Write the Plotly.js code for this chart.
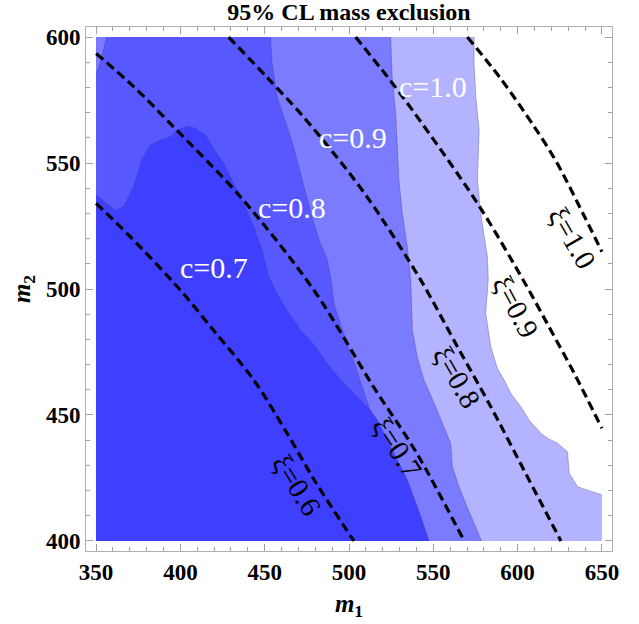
<!DOCTYPE html>
<html>
<head>
<meta charset="utf-8">
<script src="https://cdn.plot.ly/plotly-3.0.1.min.js"></script>
<style>html,body{margin:0;padding:0;background:#fff;}#plot{width:639px;height:624px;}</style>
</head>
<body>
<div id="plot"></div>
<script>
// ---- data ----
const m1Span = [350, 650];
const m2Span = [400, 600];

// contour boundaries of c (filled regions)
const c07_m1 = [350, 361.3, 366.2, 372.2, 377.1, 382.1, 388, 394, 397.9, 403.9, 408.8, 414.8, 419.7, 425.6, 431.6, 437.5, 443.5, 448.4, 452.4, 455.3, 459.3, 463.3, 471.2, 479.1, 487, 495, 504.9, 512.8, 516.8, 522.7, 528.7, 534.6, 540.5, 547.5];
const c07_m2 = [537.3, 531.3, 532.7, 540.6, 551.2, 557.1, 559.1, 560.4, 563.1, 564.7, 563.8, 561.1, 555.8, 549.9, 541.9, 534, 524.7, 515.5, 504.9, 500.9, 495.6, 491.5, 483.7, 478, 470.5, 463.9, 457.3, 451.8, 448, 440, 432.1, 424.2, 413.6, 400];

const c08_m1 = [453.4, 454.4, 457.3, 461.3, 466, 470, 474.5, 478.5, 483, 487, 489.5, 491, 495, 499, 503.5, 508, 512.8];
const c08_m2 = [600, 589.6, 576.3, 568.4, 559, 549, 538, 527.4, 518, 512, 503, 494.3, 486, 478, 470, 461, 451.3];

const c09_m1 = [524.7, 525.7, 527.7, 528.7, 529.6, 531.6, 534.6, 536.6, 537.6, 540.5, 544.4, 549, 554.4, 560.3, 561.3, 564.5, 568.3, 578.6];
const c09_m2 = [600, 582.9, 569.7, 556.5, 543.3, 530, 516.8, 503.6, 483.7, 473, 463.9, 457, 448, 438.8, 429.5, 423, 416.3, 400];

const c10_m1 = [574.2, 574.2, 575.2, 577.2, 576.2, 578.1, 582.1, 582.6, 581.1, 584.1, 588, 592, 596, 601.9, 607, 613.8, 618.5, 623.7, 629.6, 630.6, 635.6, 643.5, 650];
const c10_m2 = [600, 589.5, 576.3, 563.1, 543.3, 530, 512.8, 503.6, 490.4, 477.1, 468.5, 463.9, 458.5, 453.3, 447.8, 442.7, 440.5, 438.8, 435.4, 426.9, 421.5, 419.6, 418.3];

// small c=0.8..0.9 patch in the top-left corner
const patch_m1 = [350, 356.3, 354.3, 352.4, 350];
const patch_m2 = [600, 600, 594.8, 589.6, 585.6];

// xi contours (dashed)
const xi06_m1 = [350, 370.2, 399.9, 420, 443.5, 463.3, 480, 502.9];
const xi06_m2 = [534, 520.8, 499.6, 483.3, 463.9, 442.7, 423.5, 400];
const xi07_m1 = [350, 372, 395.9, 435.6, 479.1, 514.5, 540.2, 568.3];
const xi07_m2 = [593.5, 580.5, 564.4, 536.6, 499.6, 461.2, 434.8, 400];
const xi08_m1 = [428.6, 451.4, 471.2, 491, 510.8, 542.5, 564.3, 584.1, 601.9, 625.7];
const xi08_m2 = [600, 584.0, 569.7, 553.8, 536.5, 503.6, 477.1, 453.3, 430.5, 400];
const xi09_m1 = [503.9, 522.7, 538.5, 576.2, 603.8, 617.8, 633.6, 650];
const xi09_m2 = [600, 584.3, 570.2, 534, 503, 486, 466.5, 444.7];
const xi10_m1 = [570.2, 590, 609.8, 623, 639.5, 650];
const xi10_m2 = [600, 583.5, 564.5, 550.5, 529, 514.8];

// labels
const cLabels = ["c=0.7", "c=0.8", "c=0.9", "c=1.0"];
const cLab_m1 = [419.7, 466.3, 502.4, 549.6];
const cLab_m2 = [508.7, 532.3, 560.3, 580.3];
const xiLabels = ["\u03be=0.6", "\u03be=0.7", "\u03be=0.8", "\u03be=0.9", "\u03be=1.0"];
const xiLab_m1 = [469.0, 528.7, 563.9, 599.1, 632.6];
const xiLab_m2 = [422.2, 436.8, 465.0, 492.9, 520.4];
const xiLab_angle = [58, 57, 60, 62, 60];

// ---- styling ----
const col1 = '#3f3fff', col2 = '#5858ff', col3 = '#7b7bff', col4 = '#b3b3ff';
const edge = 'rgba(60,60,150,0.45)';
const serif = 'Liberation Serif, Times New Roman, serif';

function fillTrace(x, y, color) {
  return {x: x, y: y, type: 'scatter', mode: 'lines', fill: 'toself', fillcolor: color,
          line: {width: 0, color: color}, hoverinfo: 'skip', showlegend: false};
}
function edgeTrace(x, y) {
  return {x: x, y: y, type: 'scatter', mode: 'lines', line: {width: 0.8, color: edge},
          hoverinfo: 'skip', showlegend: false};
}
function dashTrace(x, y) {
  return {x: x, y: y, type: 'scatter', mode: 'lines',
          line: {width: 3.2, color: '#000', dash: '9px,5px', shape: 'spline', smoothing: 0.9},
          hoverinfo: 'skip', showlegend: false};
}

const L = m1Span[0], R = m1Span[1], B = m2Span[0], T = m2Span[1];
const lastC08 = c08_m2[c08_m2.length - 1];
const tailIdx = c07_m2.map((v, i) => i).filter(i => c07_m2[i] < lastC08);
const tail_m1 = tailIdx.map(i => c07_m1[i]);
const tail_m2 = tailIdx.map(i => c07_m2[i]);

const traces = [
  fillTrace([L, ...c10_m1, R, R, L], [T, ...c10_m2, B, B, B], col4),
  fillTrace([L, ...c09_m1, L], [T, ...c09_m2, B], col3),
  fillTrace([L, ...c08_m1, ...tail_m1, L], [T, ...c08_m2, ...tail_m2, B], col2),
  fillTrace([...c07_m1, L], [...c07_m2, B], col1),
  fillTrace(patch_m1, patch_m2, col3),
  edgeTrace(c07_m1, c07_m2), edgeTrace(c08_m1, c08_m2), edgeTrace(c09_m1, c09_m2),
  edgeTrace(c10_m1, c10_m2), edgeTrace(patch_m1.slice(1), patch_m2.slice(1)),
  dashTrace(xi06_m1, xi06_m2), dashTrace(xi07_m1, xi07_m2), dashTrace(xi08_m1, xi08_m2),
  dashTrace(xi09_m1, xi09_m2), dashTrace(xi10_m1, xi10_m2)
];

const annotations = [];
cLabels.forEach((t, i) => annotations.push({x: cLab_m1[i], y: cLab_m2[i], xref: 'x', yref: 'y', text: t,
  showarrow: false, font: {family: serif, size: 30, color: '#fff'}}));
xiLabels.forEach((t, i) => annotations.push({x: xiLab_m1[i], y: xiLab_m2[i], xref: 'x', yref: 'y', text: t,
  showarrow: false, textangle: xiLab_angle[i], font: {family: serif, size: 29, color: '#000'}}));

const axisCommon = {
  showgrid: false, zeroline: false, showline: true, linecolor: '#b0b0b0', linewidth: 1,
  mirror: 'allticks', ticks: 'inside', ticklen: 7, tickcolor: '#a0a0a0', tickwidth: 1,
  dtick: 50,
  minor: {dtick: 10, ticks: 'inside', ticklen: 4, tickcolor: '#a0a0a0', tickwidth: 1},
  tickfont: {family: serif, size: 23, color: '#000', weight: 'bold'},
  fixedrange: true
};

const layout = {
  width: 639, height: 624,
  margin: {l: 86, r: 27, t: 27, b: 73},
  paper_bgcolor: '#fff', plot_bgcolor: '#fff',
  showlegend: false,
  title: {text: '95% CL mass exclusion', x: 0.5, xref: 'paper', y: 0.982, yref: 'container', yanchor: 'middle',
          font: {family: serif, size: 24, color: '#000', weight: 'bold'}},
  xaxis: Object.assign({}, axisCommon, {range: [344, 656], tick0: 350,
    title: {text: '<i>m</i><sub>1</sub>', standoff: 10, font: {family: serif, size: 25, color: '#000', weight: 'bold'}}}),
  yaxis: Object.assign({}, axisCommon, {range: [396, 604], tick0: 400,
    title: {text: '<i>m</i><sub>2</sub>', standoff: 8, font: {family: serif, size: 25, color: '#000', weight: 'bold'}}}),
  annotations: annotations
};

Plotly.newPlot('plot', traces, layout, {displayModeBar: false, staticPlot: true});
</script>
</body>
</html>
